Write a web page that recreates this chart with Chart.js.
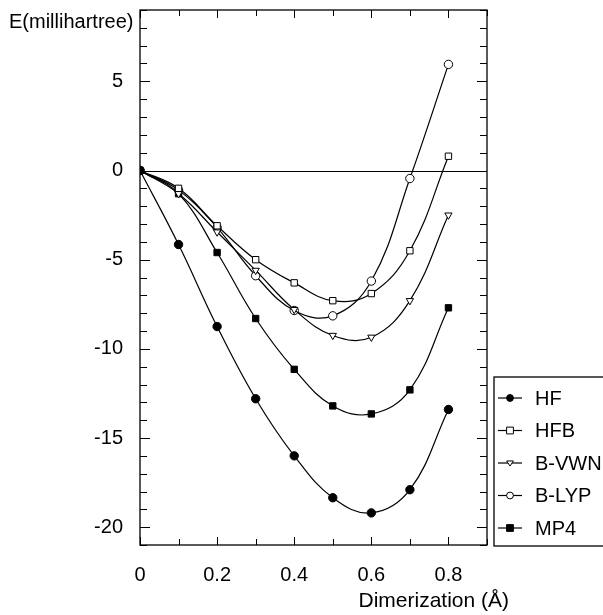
<!DOCTYPE html>
<html>
<head>
<meta charset="utf-8">
<script src="https://cdn.jsdelivr.net/npm/chart.js@4/dist/chart.umd.min.js"></script>
<style>
  html, body { margin: 0; padding: 0; background: #fff; }
  #wrap { width: 603px; height: 615px; }
</style>
</head>
<body>
<div id="wrap"><canvas id="chart"></canvas></div>
<script>
// dimerization (Å) and energies (millihartree)
const dimerization = [0, 0.1, 0.2, 0.3, 0.4, 0.5, 0.6, 0.7, 0.8];
const hf   = [0, -4.15, -8.75, -12.8, -16.0, -18.35, -19.2, -17.9, -13.4];
const hfb  = [0, -1.0, -3.1, -5.0, -6.3, -7.3, -6.9, -4.5, 0.8];
const bvwn = [0, -1.3, -3.45, -5.6, -7.8, -9.25, -9.35, -7.3, -2.5];
const blyp = [0, -1.1, -3.2, -5.9, -7.85, -8.15, -6.2, -0.45, 5.95];
const mp4  = [0, -1.3, -4.6, -8.3, -11.15, -13.2, -13.65, -12.3, -7.7];

const xTickLabels = [0, 0.2, 0.4, 0.6, 0.8];
const yTickLabels = [5, 0, -5, -10, -15, -20];

const FONT = '"Liberation Sans", Arial, Helvetica, sans-serif';

function pts(ys) {
  return dimerization.map((x, i) => ({ x: x, y: ys[i] }));
}

function series(label, ys, style, filled) {
  return {
    label: label,
    data: pts(ys),
    borderColor: '#000',
    borderWidth: 1.2,
    tension: 0.4,
    pointStyle: style,
    pointRadius: style === 'rect' ? 4.5 : 4.2,
    pointRotation: style === 'triangle' ? 180 : 0,
    pointBackgroundColor: filled ? '#000' : '#fff',
    pointBorderColor: '#000',
    pointBorderWidth: 1,
    fill: false
  };
}

// frame, inward ticks, zero line, axis titles and the boxed legend
const decor = {
  id: 'decor',
  afterDraw(chart) {
    const ctx = chart.ctx;
    const a = chart.chartArea;
    const xs = chart.scales.x, ys = chart.scales.y;
    ctx.save();
    ctx.strokeStyle = '#000';
    ctx.lineWidth = 1;

    // zero line
    const y0 = Math.round(ys.getPixelForValue(0)) + 0.5;
    ctx.beginPath(); ctx.moveTo(a.left, y0); ctx.lineTo(a.right, y0); ctx.stroke();

    ctx.lineWidth = 1.3;
    ctx.strokeRect(a.left, a.top, a.right - a.left, a.bottom - a.top);

    ctx.lineWidth = 1;
    ctx.beginPath();
    for (let v = ys.min; v <= ys.max; v++) {
      const p = Math.round(ys.getPixelForValue(v)) + 0.5;
      const len = v % 5 === 0 ? 10 : 7;
      ctx.moveTo(a.left, p); ctx.lineTo(a.left + len, p);
      ctx.moveTo(a.right, p); ctx.lineTo(a.right - len, p);
    }
    for (let i = 0; i <= 9; i++) {
      const p = Math.round(xs.getPixelForValue(i / 10)) + 0.5;
      const len = i % 2 === 0 ? 8 : 6;
      ctx.moveTo(p, a.bottom); ctx.lineTo(p, a.bottom - len);
      ctx.moveTo(p, a.top); ctx.lineTo(p, a.top + len);
    }
    ctx.stroke();

    // axis titles
    ctx.fillStyle = '#000';
    ctx.font = '20px ' + FONT;
    ctx.textBaseline = 'middle';
    ctx.textAlign = 'left';
    ctx.fillText('E(millihartree)', 9, 22);
    ctx.font = '21px ' + FONT;
    ctx.textAlign = 'right';
    ctx.fillText('Dimerization (Å)', 509, 601);

    // legend box
    ctx.lineWidth = 1.3;
    ctx.strokeRect(494, 377, 130, 169);
    const rowY = [398, 430.5, 463, 495.5, 528];
    chart.data.datasets.forEach((ds, i) => {
      const y = rowY[i];
      ctx.lineWidth = 1.2;
      ctx.beginPath(); ctx.moveTo(498, y); ctx.lineTo(522, y); ctx.stroke();
      ctx.lineWidth = 1;
      ctx.fillStyle = ds.pointBackgroundColor;
      const cx = 510, r = 3.4;
      ctx.beginPath();
      if (ds.pointStyle === 'circle') {
        ctx.arc(cx, y, r, 0, Math.PI * 2);
      } else if (ds.pointStyle === 'rect') {
        ctx.rect(cx - r, y - r, r * 2, r * 2);
      } else {
        ctx.moveTo(cx - r, y - r * 0.6);
        ctx.lineTo(cx + r, y - r * 0.6);
        ctx.lineTo(cx, y + r * 0.9);
        ctx.closePath();
      }
      ctx.fill(); ctx.stroke();
      ctx.fillStyle = '#000';
      ctx.font = '20px ' + FONT;
      ctx.textAlign = 'left';
      ctx.fillText(ds.label, 535, y + 1);
    });
    ctx.restore();
  }
};

new Chart(document.getElementById('chart'), {
  type: 'line',
  data: {
    datasets: [
      series('HF', hf, 'circle', true),
      series('HFB', hfb, 'rect', false),
      series('B-VWN', bvwn, 'triangle', false),
      series('B-LYP', blyp, 'circle', false),
      series('MP4', mp4, 'rect', true)
    ]
  },
  options: {
    responsive: true,
    maintainAspectRatio: false,
    animation: false,
    layout: { padding: { top: 10, right: 116, left: 0, bottom: 0 } },
    plugins: { legend: { display: false }, tooltip: { enabled: false } },
    scales: {
      x: {
        type: 'linear',
        min: 0,
        max: 0.9,
        grid: { display: false, drawTicks: false },
        border: { display: false },
        afterFit(s) { s.height = 70; s.paddingLeft = 0; s.paddingRight = 0; },
        afterBuildTicks(s) { s.ticks = xTickLabels.map(v => ({ value: v })); },
        ticks: {
          padding: 18,
          color: '#000',
          font: { family: FONT, size: 20 },
          maxRotation: 0,
          autoSkip: false,
          callback: v => String(Math.round(v * 10) / 10)
        }
      },
      y: {
        min: -21,
        max: 9,
        grid: { display: false, drawTicks: false },
        border: { display: false },
        afterFit(s) { s.width = 140; s.paddingTop = 0; s.paddingBottom = 0; },
        afterBuildTicks(s) { s.ticks = yTickLabels.map(v => ({ value: v })); },
        ticks: {
          padding: 17,
          color: '#000',
          font: { family: FONT, size: 20 },
          autoSkip: false,
          callback: v => String(v)
        }
      }
    }
  },
  plugins: [decor]
});
</script>
</body>
</html>
